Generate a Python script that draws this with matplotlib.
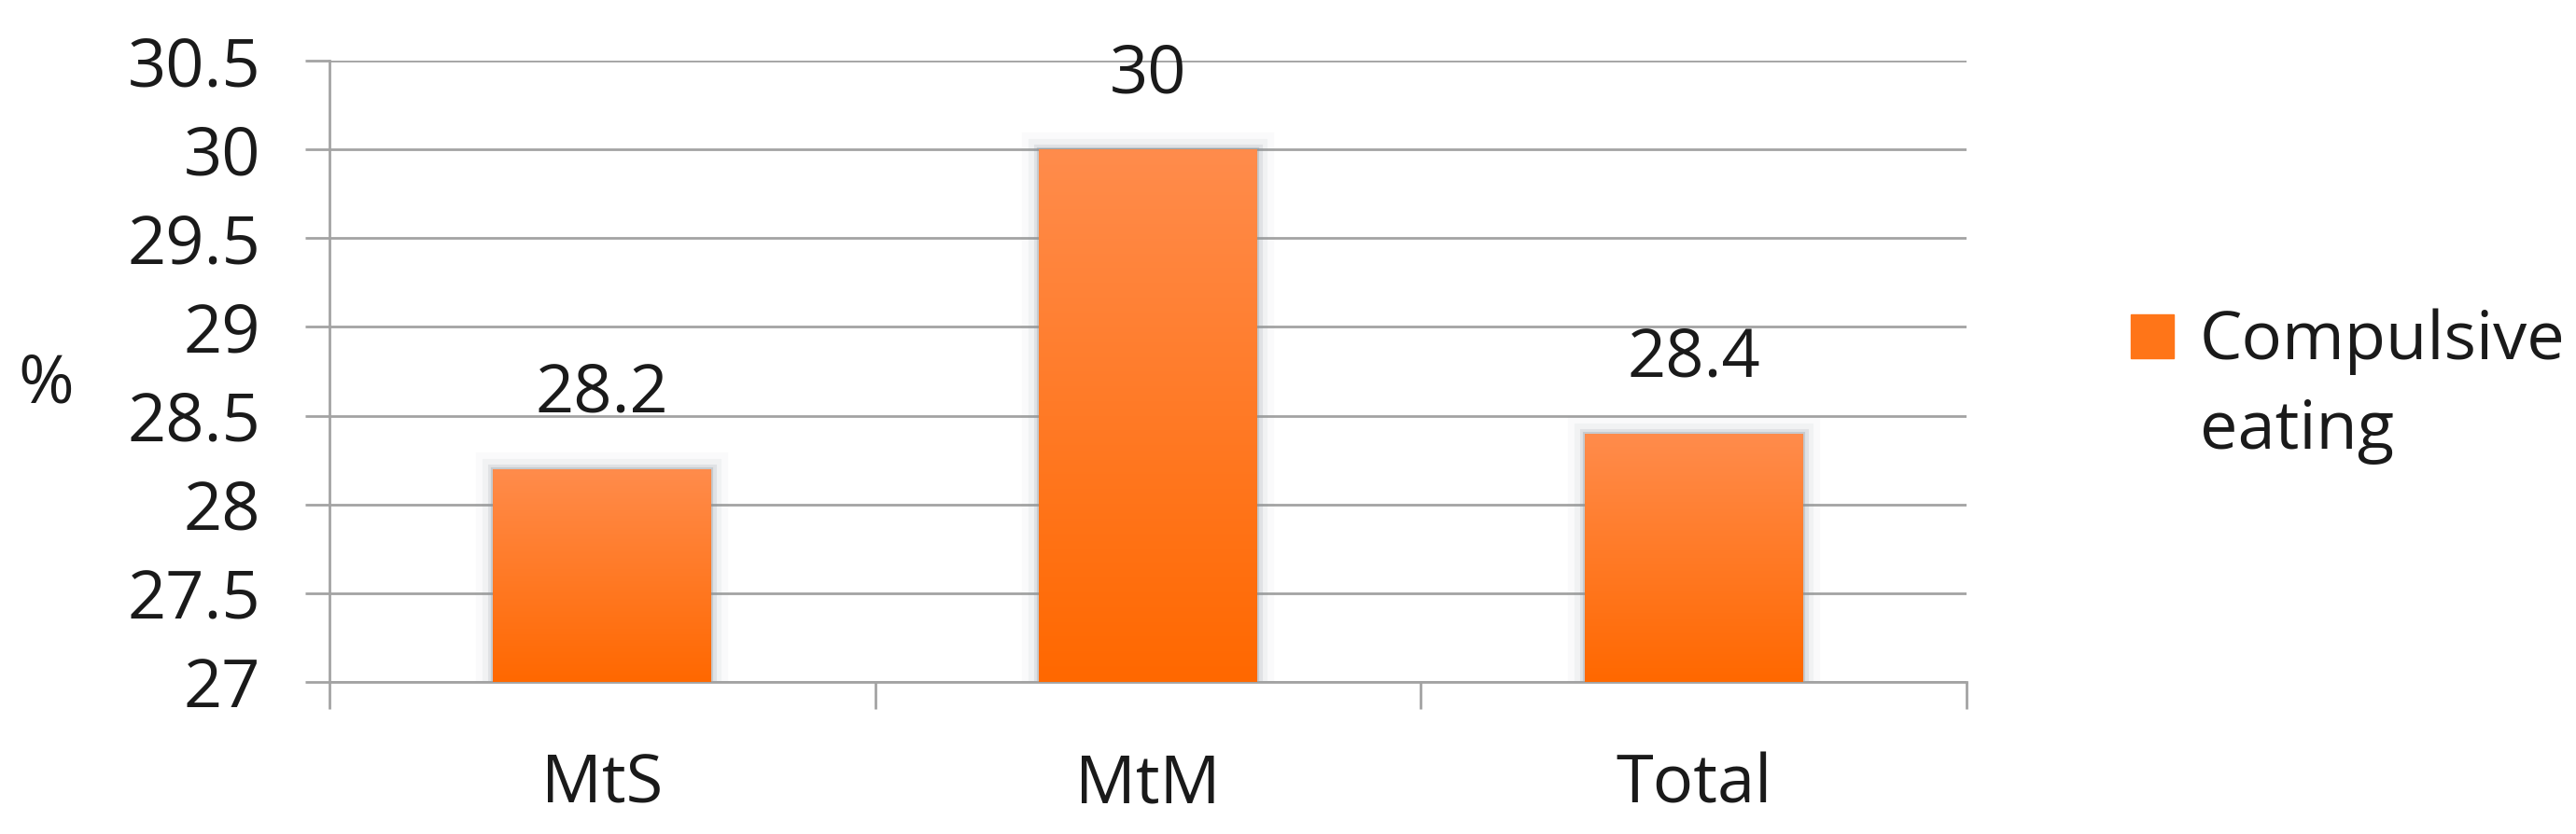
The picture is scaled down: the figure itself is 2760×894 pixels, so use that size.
import matplotlib.pyplot as plt
import matplotlib.patheffects as pe
from matplotlib.colors import LinearSegmentedColormap
from matplotlib.legend_handler import HandlerPatch
import numpy as np

plt.rcParams['font.family'] = ['Open Sans', 'DejaVu Sans']

# data
groups = ['MtS', 'MtM', 'Total']
values = [28.2, 30, 28.4]
value_labels = ['28.2', '30', '28.4']
series_name = 'Compulsive\neating'
yticks = [27, 27.5, 28, 28.5, 29, 29.5, 30, 30.5]
ytick_labels = ['27', '27.5', '28', '28.5', '29', '29.5', '30', '30.5']

fig = plt.figure(figsize=(27.6, 8.94), dpi=100)
ax = fig.add_axes([0.1279, 0.1823, 0.6355, 0.7450])

x = np.arange(len(groups))
grid_c = '#a3a3a3'
txt_c = '#1a1a1a'
fs = 52

ax.set_yticks(yticks)
ax.set_yticklabels(ytick_labels)
ax.yaxis.grid(True, color=grid_c, linewidth=2.0)
ax.set_axisbelow(True)

bars = ax.bar(x, [v - 27 for v in values], bottom=27, width=0.40,
              color='#ff7518', linewidth=0, zorder=2,
              path_effects=[pe.Stroke(linewidth=26, foreground='#8a949c', alpha=0.04),
                            pe.Stroke(linewidth=16, foreground='#8a949c', alpha=0.08),
                            pe.Stroke(linewidth=8, foreground='#8a949c', alpha=0.16),
                            pe.Stroke(linewidth=3, foreground='#8a949c', alpha=0.3),
                            pe.Normal()])

# vertical gradient, lighter at the top
grad = np.linspace(0, 1, 256).reshape(-1, 1)
cmap = LinearSegmentedColormap.from_list('og', ['#ff6800', '#ff8c4c'])
for b in bars:
    x0, y0 = b.get_x(), b.get_y()
    im = ax.imshow(grad, cmap=cmap, origin='lower', aspect='auto',
                   extent=[x0, x0 + b.get_width(), y0, y0 + b.get_height()],
                   zorder=3)
    im.set_clip_path(b)
ax.set_xlim(-0.5, len(groups) - 0.5)
ax.set_ylim(27, 30.5)

for xi, v, lab in zip(x, values, value_labels):
    ax.annotate(lab, (xi, v), xytext=(0, 44), textcoords='offset points',
                ha='center', va='baseline', fontsize=fs, color=txt_c)

# category boundaries get the tick marks, names go in between
ax.set_xticks(np.arange(-0.5, len(groups)), minor=False)
ax.set_xticklabels([''] * (len(groups) + 1))
ax.set_xticks(x, minor=True)
ax.set_xticklabels(groups, minor=True, fontsize=fs, color=txt_c)
ax.tick_params(axis='x', which='major', length=21, width=2.0, color=grid_c)
ax.tick_params(axis='x', which='minor', length=0, pad=54)
ax.tick_params(axis='y', length=19, width=2.0, color=grid_c,
               labelsize=fs, labelcolor=txt_c, pad=34)

for s in ['top', 'right']:
    ax.spines[s].set_visible(False)
ax.spines['left'].set_color(grid_c)
ax.spines['left'].set_linewidth(2.0)
ax.spines['bottom'].set_color(grid_c)
ax.spines['bottom'].set_linewidth(2.0)

fig.text(0.0072, 0.5168, '%', fontsize=fs, color=txt_c, va='baseline', ha='left')


# legend key sits beside the first line of the label
def top_square(legend, orig_handle, xdescent, ydescent, width, height, fontsize):
    return plt.Rectangle((-xdescent, -ydescent + 40), width, height)


handle = plt.Rectangle((0, 0), 1, 1, color='#ff7518')
leg = fig.legend([handle], [series_name], loc='center left',
                 bbox_to_anchor=(0.827, 0.537), frameon=False, fontsize=fs,
                 borderaxespad=0, borderpad=0,
                 handlelength=0.65, handleheight=0.62, handletextpad=0.38,
                 labelcolor=txt_c,
                 handler_map={plt.Rectangle: HandlerPatch(patch_func=top_square)})
for t in leg.get_texts():
    t.set_linespacing(1.45)

fig.savefig('out.png', dpi=100)
